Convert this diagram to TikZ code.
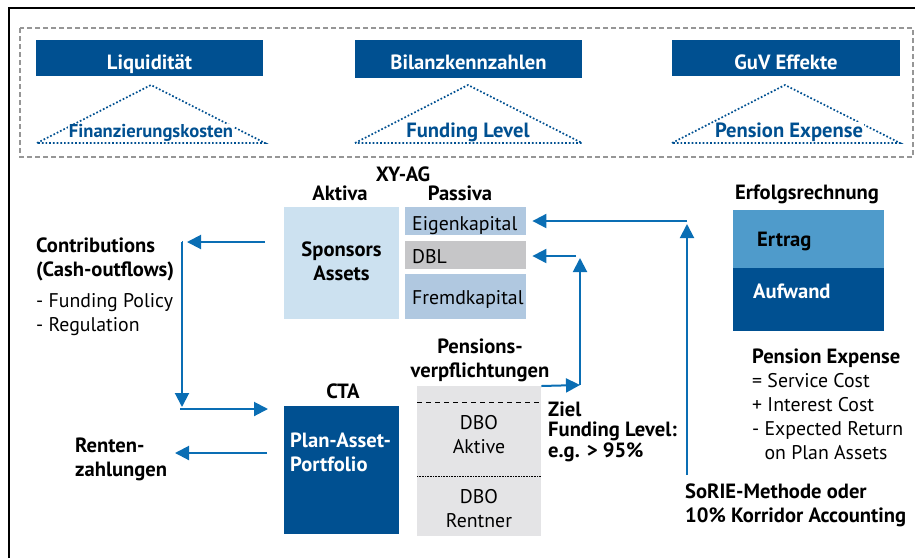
\documentclass[tikz,border=0pt]{standalone}
\usepackage{fontspec}
\setmainfont{PT Sans}
\usetikzlibrary{arrows.meta}
\definecolor{hdrblue}{RGB}{0,80,145}
\definecolor{arrblue}{RGB}{10,110,180}
\definecolor{sponsorc}{RGB}{204,225,240}
\definecolor{ekc}{RGB}{176,200,224}
\definecolor{dblc}{RGB}{198,198,200}
\definecolor{ertragc}{RGB}{79,155,203}
\definecolor{dboc}{RGB}{228,228,230}
\definecolor{framegray}{RGB}{150,150,150}
\newcommand{\regfont}{\fontsize{19.8}{24}\selectfont}
\newcommand{\boldfont}{\fontsize{20.6}{24}\selectfont\bfseries}
\tikzset{
  txt/.style={inner sep=0pt, align=left, font=\regfont, text=black},
  btxt/.style={txt, font=\boldfont},
  hdrbox/.style={fill=hdrblue, draw=none, inner sep=0pt},
  hdrtxt/.style={inner sep=0pt, text=white, font=\boldfont},
  tribox/.style={draw=hdrblue, line width=1.7pt, dash pattern=on 1.7pt off 2pt},
  trilabel/.style={fill=white, inner xsep=1pt, inner ysep=0pt, text=hdrblue, font=\boldfont},
  fillbox/.style={draw=none, inner sep=0pt, anchor=north west},
  arr/.style={draw=arrblue, line width=2pt, -{Triangle[length=14pt,width=14pt]}},
}
\begin{document}
\begin{tikzpicture}[x=1pt,y=-1pt]
\useasboundingbox (0,0) rectangle (915,558);
% outer frame
\draw[line width=1.4pt] (9,558) -- (9,8) -- (915,8);
% dashed top region
\draw[draw=framegray, line width=1.2pt, dash pattern=on 5pt off 3pt] (20,28) rectangle (913,157);
% headers
\node[hdrbox, fillbox, minimum width=227pt, minimum height=36pt] (liq) at (36,40) {};
\node[hdrtxt, anchor=base] (liqt) at (149.5,69) {Liquidität};
\node[hdrbox, fillbox, minimum width=227pt, minimum height=38pt] (bil) at (355,40) {};
\node[hdrtxt, anchor=base] (bilt) at (468.5,69) {Bilanzkennzahlen};
\node[hdrbox, fillbox, minimum width=228pt, minimum height=36pt] (guv) at (672,40) {};
\node[hdrtxt, anchor=base] (guvt) at (786,69) {GuV Effekte};
% triangles
\coordinate (t1a) at (37,143); \coordinate (t1b) at (151,85); \coordinate (t1c) at (265,143);
\coordinate (t2a) at (355,143); \coordinate (t2b) at (468,85); \coordinate (t2c) at (582,143);
\coordinate (t3a) at (672,143); \coordinate (t3b) at (785,85); \coordinate (t3c) at (900,143);
\draw[tribox] (t1a) -- (t1b) -- (t1c) -- cycle;
\draw[tribox] (t2a) -- (t2b) -- (t2c) -- cycle;
\draw[tribox] (t3a) -- (t3b) -- (t3c) -- cycle;
\node[trilabel, anchor=base, font=\fontsize{18.6}{24}\selectfont\bfseries] (fin) at (151,137) {Finanzierungskosten};
\node[trilabel, anchor=base] (fl) at (468,137) {Funding Level};
\node[trilabel, anchor=base] (pe) at (789,137) {Pension Expense};
% balance sheet
\node[btxt, anchor=base] (xy) at (403,181) {XY-AG};
\node[btxt, anchor=base] (akt) at (340,200) {Aktiva};
\node[btxt, anchor=base] (pas) at (460,200) {Passiva};
\node[fillbox, fill=sponsorc, minimum width=115pt, minimum height=112pt] (spons) at (284,207) {};
\node[btxt, align=center, anchor=base] (sponst) at (341.5,280) {Sponsors\\Assets};
\node[fillbox, fill=ekc, minimum width=121pt, minimum height=28pt] (ek) at (405,207) {};
\node[txt, anchor=base west] (ekt) at (412,230) {Eigenkapital};
\node[fillbox, fill=dblc, minimum width=121pt, minimum height=28pt] (dbl) at (405,241) {};
\node[txt, anchor=base west] (dblt) at (412,263) {DBL};
\node[fillbox, fill=ekc, minimum width=121pt, minimum height=45pt] (fk) at (405,274) {};
\node[txt, anchor=base west] (fkt) at (412,304) {Fremdkapital};
% income statement
\node[btxt, anchor=base west] (erf) at (735,199) {Erfolgsrechnung};
\node[fillbox, fill=ertragc, minimum width=151pt, minimum height=58pt] (ert) at (733,210) {};
\node[btxt, anchor=base west] (ertt) at (757,246) {Ertrag};
\node[fillbox, fill=hdrblue, minimum width=151pt, minimum height=63pt] (auf) at (733,268) {};
\node[btxt, anchor=base west, text=white] (auft) at (753,298) {Aufwand};
\node[btxt, anchor=base west] (pex) at (752,363) {Pension Expense};
\node[txt, anchor=base west] (pexl) at (752,459) {= Service Cost\\+ Interest Cost\\- Expected Return\\\hphantom{- }on Plan Assets};
\node[btxt, anchor=base west] (sorie) at (685,522) {SoRIE-Methode oder\\10\% Korridor Accounting};
% left side
\node[btxt, anchor=base west] (contr) at (36,276) {Contributions\\(Cash-outflows)};
\node[txt, anchor=base west] (pol) at (36,331) {- Funding Policy\\- Regulation};
\node[btxt, anchor=base west] (rent) at (75,476) {Renten-\\zahlungen};
% CTA
\node[btxt, anchor=base] (ctal) at (343,398) {CTA};
\node[fillbox, fill=hdrblue, minimum width=115pt, minimum height=128pt] (cta) at (284,406) {};
\node[btxt, anchor=base west, text=white] (ctat) at (290,471) {Plan-Asset-\\Portfolio};
% pension obligations
\node[btxt, align=center, anchor=base] (pv) at (480,377) {Pensions-\\verpflichtungen};
\node[fillbox, fill=dboc, minimum width=124pt, minimum height=150pt] (dbo) at (417,386) {};
\draw[line width=0.9pt, dash pattern=on 5pt off 4pt] (dbo.west |- 0,402) -- (dbo.east |- 0,402);
\draw[line width=0.8pt, dash pattern=on 0.8pt off 0.8pt] (dbo.west |- 0,476) -- (dbo.east |- 0,476);
\node[txt, align=center, anchor=base] (dboa) at (479,453) {DBO\\Aktive};
\node[txt, align=center, anchor=base] (dbor) at (479,527) {DBO\\Rentner};
\node[btxt, anchor=base west, font=\fontsize{20.6}{20.5}\selectfont\bfseries] (ziel) at (548,457) {Ziel\\Funding Level:\\e.g. > 95\%};
% connector points
\coordinate (s1) at (265,242);
\coordinate (l1) at (182,242);
\coordinate (l2) at (182,407);
\coordinate (l3) at (180,409);
\coordinate (l4) at (268,409);
\coordinate (p1) at (267,453);
\coordinate (p2) at (175,453);
\coordinate (d2) at (580,385);
\coordinate (d1) at (580,256);
\coordinate (d0) at (576,256);
\coordinate (e2) at (687,475);
\coordinate (e1) at (687,221);
% arrows
\draw[arr] (s1) -- (l1 -| 187,0);
\draw[draw=arrblue, line width=2pt] (l1) -- (183,242);
\draw[arr] (l1) -- (l2);
\draw[arr] (l3) -- (l4);
\draw[arr] (p1) -- (p2);
\draw[arr] (dbo.north east) -- (d2);
\draw[arr, shorten >=2pt] (d2) -- (d1);
\draw[arr, shorten >=6pt] (d0) -- (dbl.east |- d0);
\draw[arr, shorten >=3pt] (e2) -- (e1);
\draw[arr, shorten >=6pt] (e1) -- (ek.east |- e1);
\end{tikzpicture}
\end{document}
